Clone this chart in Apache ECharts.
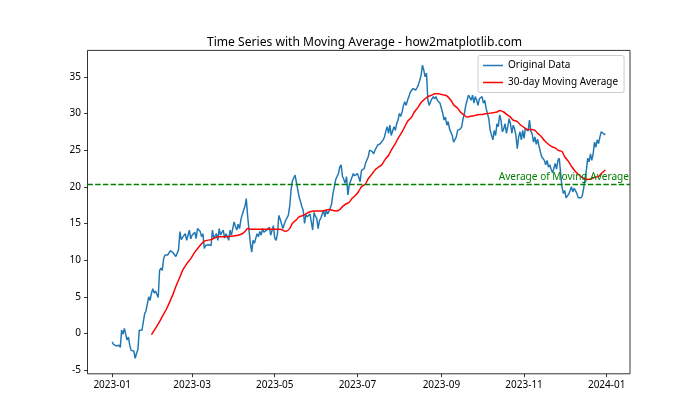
<!DOCTYPE html>
<html>
<head>
<meta charset="utf-8">
<script src="https://cdn.jsdelivr.net/npm/echarts@6/dist/echarts.min.js"></script>
<style>html,body{margin:0;padding:0;background:#fff}#c{width:700px;height:420px}</style>
</head>
<body>
<div id="c"></div>
<script>
// ---- data ----
const startDate = '2023-01-01';
// daily values, one per day from 2023-01-01 to 2023-12-31
const originalData = [
  -1.15, -1.5, -1.4, -1.7, -1.5, -1.6, -1.9, 0.45, -0.1, 0.7,
  0.6, -0.9, -0.5, -1.6, -2.3, -2.2, -2.4, -3.4, -2.7, -2.2,
  0.45, 0.2, 0.45, 0.4, 2.7, 3.1, 3.0, 5.0, 4.5, 5.5,
  6.1, 5.5, 5.8, 6.0, 4.9, 8.6, 8.9, 8.6, 10.2, 10.7,
  10.6, 10.7, 10.9, 11.3, 11.1, 11.0, 10.8, 10.5, 10.5, 11.4,
  13.9, 12.8, 13.1, 12.9, 13.6, 12.7, 13.4, 14.1, 12.9, 13.4,
  13.6, 13.8, 12.95, 14.3, 14.5, 13.9, 13.2, 13.6, 11.6, 12.0,
  12.0, 12.1, 11.9, 12.0, 14.1, 13.0, 13.3, 13.6, 12.7, 14.3,
  13.4, 13.8, 14.1, 13.0, 13.6, 13.2, 12.7, 14.1, 13.4, 14.3,
  15.2, 14.6, 14.1, 14.9, 14.3, 15.5, 16.2, 16.8, 17.3, 18.4,
  16.0, 14.1, 12.3, 11.1, 12.7, 12.3, 13.0, 13.6, 13.2, 13.9,
  13.4, 14.3, 13.8, 13.6, 14.1, 13.9, 14.5, 13.4, 13.5, 14.7,
  13.0, 12.7, 13.6, 16.1, 15.6, 15.4, 14.3, 14.9, 15.4, 15.4,
  16.1, 17.3, 19.5, 20.8, 21.2, 21.6, 21.8, 19.6, 18.6, 18.0,
  17.3, 16.8, 15.0, 16.2, 15.9, 16.1, 16.3, 15.2, 14.1, 16.5,
  16.0, 15.7, 14.3, 15.4, 15.7, 15.9, 16.8, 15.9, 16.8, 16.3,
  16.6, 16.8, 17.7, 19.1, 20.0, 21.0, 21.4, 21.8, 22.7, 23.0,
  21.4, 21.0, 20.5, 21.4, 18.9, 20.3, 20.8, 21.0, 21.8, 21.5,
  21.4, 21.8, 21.3, 20.7, 22.2, 22.0, 22.5, 23.2, 23.4, 24.1,
  25.0, 25.2, 24.8, 24.5, 25.0, 24.8, 25.7, 25.6, 25.9, 25.7,
  26.4, 26.8, 27.6, 28.2, 27.3, 28.4, 27.0, 27.6, 28.2, 27.7,
  28.6, 29.1, 30.0, 29.6, 30.2, 31.1, 31.6, 31.1, 31.8, 32.3,
  32.9, 32.7, 33.4, 33.6, 33.2, 33.5, 33.9, 34.5, 35.2, 36.6,
  35.9, 35.0, 35.5, 31.8, 31.1, 31.6, 32.0, 32.3, 32.0, 32.3,
  31.8, 31.6, 31.4, 31.6, 30.0, 29.1, 29.5, 28.4, 28.9, 27.9,
  27.7, 27.0, 26.1, 25.9, 26.8, 27.7, 27.5, 27.9, 28.2, 29.3,
  30.0, 31.1, 31.8, 32.5, 32.7, 31.8, 32.5, 31.4, 32.3, 31.8,
  31.1, 32.0, 31.8, 32.3, 31.4, 31.8, 30.7, 30.0, 29.3, 27.7,
  27.7, 26.4, 27.7, 27.0, 28.6, 28.2, 29.8, 29.1, 27.5, 27.9,
  28.6, 27.3, 28.2, 29.3, 28.6, 27.3, 28.4, 27.9, 27.0, 25.2,
  26.8, 27.5, 26.4, 27.7, 26.6, 28.0, 28.2, 27.6, 29.1, 27.6,
  27.2, 26.1, 26.8, 25.8, 26.5, 25.6, 24.8, 24.1, 24.3, 23.6,
  23.0, 23.6, 22.7, 23.0, 22.4, 21.9, 22.5, 23.2, 22.4, 23.6,
  23.9, 21.8, 20.0, 19.1, 19.5, 18.5, 18.4, 19.0, 19.5, 20.0,
  19.3, 19.8, 19.6, 19.1, 18.5, 18.6, 18.5, 18.8, 19.8, 21.1,
  22.3, 23.9, 23.4, 24.5, 23.6, 24.5, 26.1, 25.4, 26.4, 25.9,
  26.8, 27.5, 27.7, 27.2, 27.1
];
// 30-day moving average, read at these day offsets from startDate
const maDays = [29, 32, 35, 37, 40, 42, 45, 47, 50, 52, 55, 58, 61, 64, 68, 73, 78, 83, 88, 93,
  96, 98, 100, 103, 109, 113, 117, 121, 124, 128, 131, 133, 136, 138, 141, 143, 146, 150, 155, 160,
  165, 168, 170, 172, 175, 177, 180, 182, 184, 187, 189, 192, 194, 196, 199, 201, 204, 206, 209, 211,
  214, 216, 218, 221, 223, 226, 228, 231, 233, 236, 238, 241, 243, 245, 247, 250, 252, 255, 257, 259,
  262, 264, 267, 269, 274, 277, 281, 284, 286, 289, 291, 294, 296, 299, 301, 304, 306, 309, 312, 314,
  317, 319, 322, 324, 327, 329, 332, 334, 337, 339, 341, 344, 346, 349, 351, 354, 356, 359, 361, 364];
const maValues = [-0.15, 0.7, 1.6, 2.3, 3.3, 4.1, 5.4, 6.4, 7.7, 8.6, 9.5, 10.2, 11.1, 11.8, 12.6, 12.8, 13.2, 13.2, 13.25, 13.4,
  13.6, 13.9, 14.3, 14.2, 14.2, 14.2, 14.2, 14.2, 14.2, 13.9, 14.3, 15.0, 15.5, 15.9, 16.1, 16.3, 16.6, 16.7, 16.7, 16.9,
  16.7, 16.9, 17.3, 17.6, 17.9, 18.4, 18.9, 19.4, 20.0, 20.4, 21.1, 21.8, 22.3, 22.6, 23.0, 23.6, 24.3, 25.0, 25.9, 26.6,
  27.5, 28.2, 28.9, 29.5, 30.2, 30.9, 31.5, 32.0, 32.3, 32.5, 32.7, 32.7, 32.6, 32.5, 32.4, 31.8, 31.2, 30.7, 30.2, 29.9,
  29.5, 29.6, 29.7, 29.8, 29.9, 30.0, 30.1, 30.2, 30.4, 30.2, 29.9, 29.5, 29.1, 28.9, 28.5, 28.1, 27.8, 27.8, 27.7, 27.3,
  26.8, 26.3, 25.8, 25.5, 25.3, 25.0, 24.8, 24.1, 23.4, 22.8, 22.3, 21.7, 21.4, 21.1, 21.0, 21.1, 21.3, 21.4, 21.8, 22.3];
const avgOfMA = 20.35;
const xTickDates = ['2023-01-01', '2023-03-01', '2023-05-01', '2023-07-01', '2023-09-01', '2023-11-01', '2024-01-01'];
const xTickLabels = ['2023-01', '2023-03', '2023-05', '2023-07', '2023-09', '2023-11', '2024-01'];
const yTicks = [-5, 0, 5, 10, 15, 20, 25, 30, 35];
const yTickLabels = ['-5', '0', '5', '10', '15', '20', '25', '30', '35'];
const titleText = 'Time Series with Moving Average - how2matplotlib.com';
const seriesNames = ['Original Data', '30-day Moving Average'];
const avgLabel = 'Average of Moving Average';

// ---- build chart ----
const DAY = 86400000;
const t0 = Date.UTC(2023, 0, 1);
function dayOffset(s) { const p = s.split('-').map(Number); return Math.round((Date.UTC(p[0], p[1] - 1, p[2]) - t0) / DAY); }
const xTickPos = xTickDates.map(dayOffset);
const lastDay = originalData.length - 1;
const xMargin = lastDay * 0.05;

const FONT = '"Noto Sans", "Open Sans", sans-serif';
const LINE_ICON = 'path://M0,0H40V3H0Z';
const chart = echarts.init(document.getElementById('c'), null, { renderer: 'canvas' });
chart.setOption({
  animation: false,
  backgroundColor: '#ffffff',
  textStyle: { fontFamily: FONT },
  title: {
    text: titleText, left: 359.5, top: 32, textAlign: 'center',
    textStyle: { fontFamily: FONT, fontSize: 12.1, fontWeight: 'normal', color: '#000' }
  },
  grid: { left: 87.5, right: 70, top: 50.4, bottom: 46.2, show: true, borderColor: '#000', borderWidth: 0.8, backgroundColor: 'transparent' },
  legend: {
    orient: 'vertical', left: 478, top: 55.5,
    padding: [4, 6, 4, 5], itemGap: 5, itemWidth: 20, itemHeight: 12,
    backgroundColor: 'rgba(255,255,255,0.8)', borderColor: '#cccccc', borderWidth: 1, borderRadius: 2,
    textStyle: { fontFamily: FONT, fontSize: 10, color: '#000', lineHeight: 12 },
    data: seriesNames.map(n => ({ name: n, icon: LINE_ICON }))
  },
  xAxis: {
    type: 'value', min: -xMargin, max: lastDay + xMargin,
    splitLine: { show: false }, axisLine: { show: false, onZero: false },
    axisTick: { show: true, inside: false, length: 3.4, lineStyle: { color: '#000', width: 0.8 }, customValues: xTickPos },
    axisLabel: {
      show: true, customValues: xTickPos, margin: 6.5, color: '#000', fontFamily: FONT, fontSize: 10,
      formatter: v => { const i = xTickPos.indexOf(Math.round(v)); return i >= 0 ? xTickLabels[i] : ''; }
    }
  },
  yAxis: {
    type: 'value', min: -5.5, max: 38.6,
    splitLine: { show: false }, axisLine: { show: false, onZero: false },
    axisTick: { show: true, inside: false, length: 3.4, lineStyle: { color: '#000', width: 0.8 }, customValues: yTicks },
    axisLabel: {
      show: true, customValues: yTicks, margin: 6.5, color: '#000', fontFamily: FONT, fontSize: 10,
      formatter: v => { const i = yTicks.indexOf(Math.round(v)); return i >= 0 ? yTickLabels[i] : ''; }
    }
  },
  series: [
    {
      name: seriesNames[0], type: 'line', symbol: 'none', showSymbol: false,
      data: originalData.map((v, i) => [i, v]),
      lineStyle: { color: '#1f77b4', width: 1.46 }, itemStyle: { color: '#1f77b4' },
      z: 2
    },
    {
      name: seriesNames[1], type: 'line', symbol: 'none', showSymbol: false, smooth: 0.3,
      data: maDays.map((d, i) => [d, maValues[i]]),
      lineStyle: { color: '#ff0000', width: 1.46 }, itemStyle: { color: '#ff0000' },
      z: 3,
      markLine: {
        silent: true, symbol: 'none', animation: false,
        data: [{ yAxis: avgOfMA }],
        lineStyle: { color: '#008000', type: [5.4, 2.3], width: 1.46 },
        label: { show: true, position: 'insideEndTop', formatter: avgLabel, color: '#008000', fontFamily: FONT, fontSize: 10.1, distance: [1, 2] }
      }
    }
  ]
});
</script>
</body>
</html>
